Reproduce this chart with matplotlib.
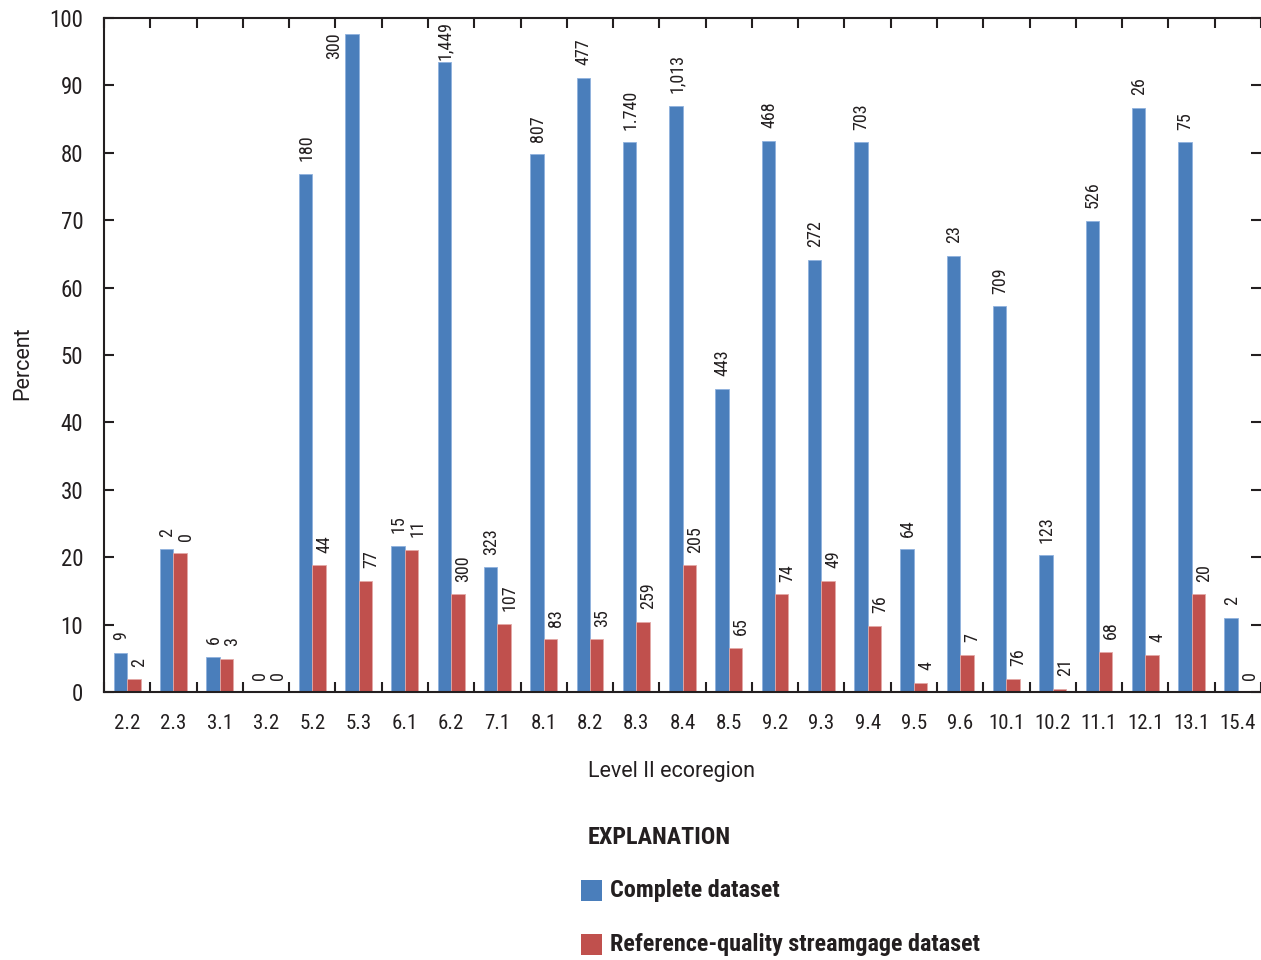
import matplotlib
matplotlib.use("Agg")
import matplotlib.pyplot as plt
from matplotlib import font_manager
from matplotlib.patches import Rectangle
import numpy as np

# ---- data -------------------------------------------------------------
ecoregions = ["2.2", "2.3", "3.1", "3.2", "5.2", "5.3", "6.1", "6.2", "7.1",
              "8.1", "8.2", "8.3", "8.4", "8.5", "9.2", "9.3", "9.4", "9.5",
              "9.6", "10.1", "10.2", "11.1", "12.1", "13.1", "15.4"]

complete_pct = [5.8, 21.2, 5.2, 0.0, 76.9, 97.6, 21.7, 93.5, 18.5,
                79.8, 91.1, 81.6, 87.0, 45.0, 81.8, 64.1, 81.6, 21.2,
                64.7, 57.2, 20.3, 69.9, 86.7, 81.6, 11.0]

reference_pct = [1.9, 20.6, 4.9, 0.0, 18.8, 16.5, 21.1, 14.5, 10.1,
                 7.8, 7.8, 10.4, 18.8, 6.6, 14.5, 16.5, 9.8, 1.4,
                 5.5, 2.0, 0.5, 6.0, 5.5, 14.5, 0.0]

complete_counts = ["9", "2", "6", "0", "180", "300", "15", "1,449", "323",
                   "807", "477", "1.740", "1,013", "443", "468", "272", "703",
                   "64", "23", "709", "123", "526", "26", "75", "2"]

reference_counts = ["2", "0", "3", "0", "44", "77", "11", "300", "107",
                    "83", "35", "259", "205", "65", "74", "49", "76",
                    "4", "7", "76", "21", "68", "4", "20", "0"]

y_ticks = list(range(0, 101, 10))

series_names = ["Complete dataset", "Reference-quality streamgage dataset"]
legend_title = "EXPLANATION"
x_title = "Level II ecoregion"
y_title = "Percent"

# ---- style ------------------------------------------------------------
def first_font(cands):
    for c in cands:
        try:
            font_manager.findfont(c, fallback_to_default=False)
            return c
        except Exception:
            continue
    return "DejaVu Sans"

FONT = first_font(["Roboto Condensed", "Liberation Sans Narrow",
                   "DejaVu Sans Condensed", "Liberation Sans"])
LABEL_FONT = first_font(["Roboto", "Liberation Sans", "DejaVu Sans"])
plt.rcParams["font.family"] = [FONT, "DejaVu Sans"]

INK = "#231f20"
BLUE = "#4a7ebb"
RED = "#c0504d"

DPI = 100
fig = plt.figure(figsize=(12.61, 9.60), dpi=DPI)
ax = fig.add_axes([104 / 1261, 1 - 692 / 960, 1 - 104 / 1261, (692 - 18) / 960])

n = len(ecoregions)
x = np.arange(n)
w = 0.29

bars_c = ax.bar(x - w / 2, complete_pct, width=w, color=BLUE,
                edgecolor="#8fb2de", linewidth=0.6, zorder=2)
bars_r = ax.bar(x + w / 2, reference_pct, width=w, color=RED,
                edgecolor="#e3a9a7", linewidth=0.6, zorder=2)

ax.set_xlim(-0.5, n - 0.5)
ax.set_ylim(0, 100)

# spines
for side in ("left", "bottom", "top"):
    ax.spines[side].set_color(INK)
    ax.spines[side].set_linewidth(1.5)
ax.spines["right"].set_visible(False)

# x ticks: labels at centres, tick marks at category boundaries
ax.set_xticks(x)
ax.set_xticklabels(ecoregions)
ax.set_xticks(np.arange(-0.5, n, 1.0), minor=True)
ax.tick_params(axis="x", which="major", length=0, pad=16, labelsize=15,
               labelcolor=INK)
ax.tick_params(axis="x", which="minor", direction="in", length=7.5, width=1.5,
               color=INK, top=True, bottom=True)

ax.set_yticks(y_ticks)
ax.tick_params(axis="y", which="major", direction="in", length=7.5, width=1.5,
               color=INK, left=True, right=True, labelsize=16.5, pad=15,
               labelcolor=INK)

ax.set_ylabel(y_title, fontsize=15.5, color=INK, family=LABEL_FONT)
ax.yaxis.label.set_va("baseline")
ax.yaxis.set_label_coords((28.5 - 104) / 1157, (692 - 363.5) / 674)
ax.set_xlabel(x_title, fontsize=15.5, color=INK, family=LABEL_FONT)
ax.xaxis.label.set_va("baseline")
ax.xaxis.set_label_coords((671 - 104) / 1157, -(777 - 692) / 674)

# ---- count labels above bars ----------------------------------------
GAP = 9  # points
texts = []
for bars, counts, dx in ((bars_c, complete_counts, 0.5),
                         (bars_r, reference_counts, 4.0)):
    for b, lab in zip(bars, counts):
        xc = b.get_x() + b.get_width() / 2
        v = b.get_height()
        t = ax.annotate(lab, (xc, v), xytext=(dx, GAP), textcoords="offset points",
                        rotation=90, ha="center", va="bottom", fontsize=13,
                        color=INK, annotation_clip=False)
        texts.append((t, xc, v, dx))

fig.canvas.draw()
renderer = fig.canvas.get_renderer()
ax_top = ax.get_window_extent(renderer).y1
px2pt = 72.0 / DPI
for t, xc, v, dx in texts:
    bb = t.get_window_extent(renderer)
    limit = ax_top - 2.5
    if bb.y1 > limit:
        bar_top = ax.transData.transform((xc, v))[1]
        over = bb.y1 - limit
        if bb.y0 - over >= bar_top - 0.5:
            t.xyann = (dx, GAP - over * px2pt)
        else:
            # no room above the bar: set the label beside it
            t.set_va("top")
            t.xyann = (-13.0, 1)

# ---- explanation ------------------------------------------------------
fig.text(588 / 1261, 1 - 838 / 960, legend_title, fontsize=17.4,
         fontweight="bold", color=INK, va="center", ha="left")
for i, (name, col) in enumerate(zip(series_names, (BLUE, RED))):
    yc = 890 + i * 54
    fig.patches.append(Rectangle((581 / 1261, 1 - (yc + 10.5) / 960),
                                 21 / 1261, 21 / 960, transform=fig.transFigure,
                                 facecolor=col, edgecolor="none"))
    fig.text(610 / 1261, 1 - yc / 960, name, fontsize=17.4, fontweight="bold",
             color=INK, va="center", ha="left")

fig.savefig("out.png", dpi=DPI)
